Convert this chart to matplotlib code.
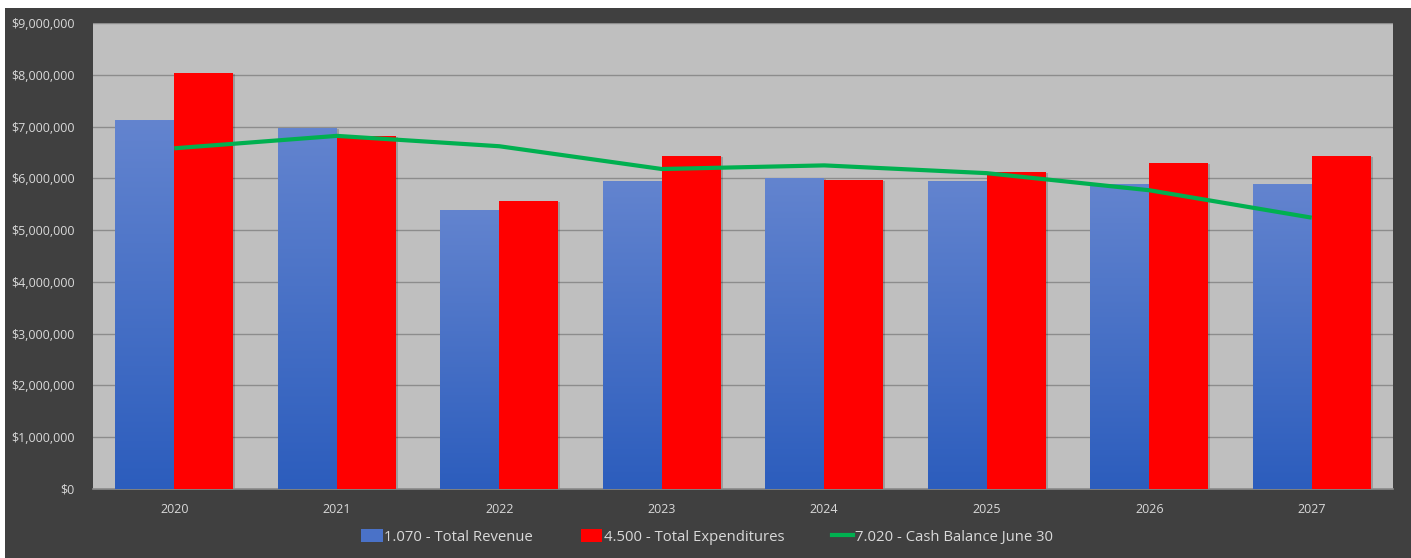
import matplotlib
matplotlib.use("Agg")
import matplotlib.pyplot as plt
import numpy as np
from matplotlib.ticker import FuncFormatter, MultipleLocator
from matplotlib.patches import Rectangle
from matplotlib.lines import Line2D
from matplotlib.colors import LinearSegmentedColormap

years = ["2020", "2021", "2022", "2023", "2024", "2025", "2026", "2027"]
revenue = [7120000, 6970000, 5390000, 5950000, 6000000, 5950000, 5890000, 5890000]
expenditures = [8030000, 6810000, 5560000, 6430000, 5970000, 6120000, 6290000, 6430000]
cash_balance = [6580000, 6820000, 6620000, 6180000, 6250000, 6100000, 5770000, 5240000]
labels = ["1.070 - Total Revenue", "4.500 - Total Expenditures", "7.020 - Cash Balance June 30"]

plt.rcParams['font.family'] = ['Open Sans', 'DejaVu Sans']

W, H = 1411, 558
fig = plt.figure(figsize=(W / 100, H / 100), dpi=100, facecolor="white")
# dark background panel
fig.patches.append(Rectangle((5 / W, 0), 1 - 5 / W, 1 - 8 / H, transform=fig.transFigure,
                             facecolor="#404040", edgecolor="none", zorder=-5))

ax = fig.add_axes([93 / W, (H - 489) / H, (1393 - 93) / W, (489 - 23) / H])
ax.set_zorder(2)
ax.set_facecolor("#BFBFBF")

x = np.arange(len(years))
bw = 0.363
txtc = "#D9D9D9"

cmap = LinearSegmentedColormap.from_list("bl", ["#2C5DBD", "#6384CF"])
grad = np.linspace(0, 1, 256).reshape(-1, 1)

# shadows
for xi, r, e in zip(x, revenue, expenditures):
    for xx, v in ((xi - bw, r), (xi, e)):
        ax.add_patch(Rectangle((xx + 0.012, 0), bw, v - 20000, facecolor="#000000",
                               alpha=0.18, edgecolor="none", zorder=2))

rev_bars = ax.bar(x - bw / 2, revenue, width=bw, color="#4A72C8", zorder=3, linewidth=0)
for b in rev_bars:
    bx, by = b.get_x(), b.get_y()
    im = ax.imshow(grad, cmap=cmap, aspect="auto", origin="lower",
                   extent=[bx, bx + b.get_width(), by, by + b.get_height()], zorder=3.1)
    im.set_clip_path(b)
exp_bars = ax.bar(x + bw / 2, expenditures, width=bw, color="#FF0000", zorder=4, linewidth=0)

ax.plot(x, cash_balance, color="#00B050", linewidth=3, zorder=5, solid_capstyle="butt")

ax.set_xlim(-0.5, len(years) - 0.5)
ax.set_ylim(0, 9000000)
ax.yaxis.set_major_locator(MultipleLocator(1000000))
ax.yaxis.set_major_formatter(FuncFormatter(lambda v, p: f"${v:,.0f}"))
ax.set_xticks(x)
ax.set_xticklabels(years)
ax.grid(axis="y", color="#8C8C8C", linewidth=1.0, zorder=1)
ax.set_axisbelow(True)
for s in ("top", "right", "left"):
    ax.spines[s].set_visible(False)
ax.spines["bottom"].set_color("#8C8C8C")
ax.spines["bottom"].set_linewidth(1.2)
ax.tick_params(axis="both", length=0, colors=txtc, labelsize=9)
ax.tick_params(axis="y", pad=13)
ax.tick_params(axis="x", pad=10)

handles = [Rectangle((0, 0), 1, 1, facecolor="#4A72C8"),
           Rectangle((0, 0), 1, 1, facecolor="#FF0000"),
           Line2D([0], [0], color="#00B050", linewidth=3)]
leg = fig.legend(handles, labels, loc="center", bbox_to_anchor=(707 / W, (H - 537) / H),
                 ncol=3, frameon=False, fontsize=10.7, labelcolor=txtc,
                 handlelength=1.45, handleheight=0.9, handletextpad=0.1, columnspacing=3.2)

fig.savefig("out.png", dpi=100, facecolor="white")
